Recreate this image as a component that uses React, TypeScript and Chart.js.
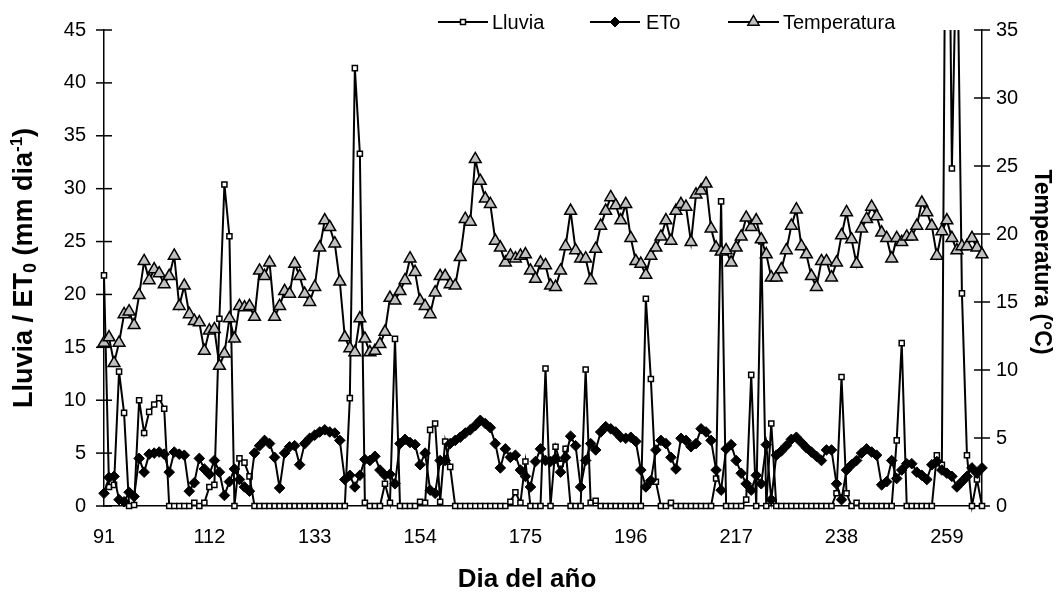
import React, { useEffect, useRef } from 'react';
import { Chart, registerables } from 'chart.js';

Chart.register(...registerables);

const FIRST_DAY = 91;
const TICK_DAYS = [91, 112, 133, 154, 175, 196, 217, 238, 259];

// Lluvia (mm dia-1), days 91..266
const lluvia = [
  21.8, 1.8, 2.0, 12.7, 8.8, 0, 0.1, 10.0, 6.9, 8.9,
  9.6, 10.2, 9.2, 0, 0, 0, 0, 0, 0.3, 0,
  0.3, 1.8, 2.0, 17.7, 30.4, 25.5, 0, 4.5, 4.1, 2.8,
  0, 0, 0, 0, 0, 0, 0, 0, 0, 0,
  0, 0, 0, 0, 0, 0, 0, 0, 0, 10.2,
  41.4, 33.3, 0.3, 0, 0, 0, 2.1, 0.3, 15.8, 0,
  0, 0, 0, 0.4, 0.3, 7.2, 7.8, 0.4, 6.1, 3.7,
  0, 0, 0, 0, 0, 0, 0, 0, 0, 0,
  0, 0.4, 1.3, 0.3, 4.2, 0, 0, 0, 13.0, 0,
  5.6, 4.0, 5.4, 0, 0, 0, 12.9, 0.3, 0.5, 0,
  0, 0, 0, 0, 0, 0, 0, 0, 19.6, 12.0,
  2.3, 0, 0, 0.3, 0, 0, 0, 0, 0, 0,
  0, 0, 2.6, 28.8, 0, 0, 0, 0, 0.6, 12.4,
  0, 25.0, 0, 7.8, 0, 0, 0, 0, 0, 0,
  0, 0, 0, 0, 0, 0, 1.2, 12.2, 1.2, 0,
  0.3, 0, 0, 0, 0, 0, 0, 0, 6.2, 15.4,
  0, 0, 0, 0, 0, 0, 4.8, 3.9, 80, 31.9,
  56, 20.1, 4.8, 0, 2.5, 0,
];

// ETo (mm dia-1)
const eto = [
  1.2, 2.7, 2.8, 0.6, 0.4, 1.3, 0.9, 4.5, 3.2, 4.9,
  5.0, 5.1, 4.9, 3.2, 5.1, 4.9, 4.8, 1.4, 2.2, 4.5,
  3.5, 3.0, 4.3, 3.2, 1.0, 2.3, 3.5, 2.5, 1.8, 1.4,
  5.0, 5.7, 6.2, 5.9, 4.6, 1.7, 5.0, 5.6, 5.7, 3.9,
  5.9, 6.4, 6.7, 7.0, 7.2, 7.0, 6.9, 6.2, 2.5, 2.9,
  1.8, 2.9, 4.4, 4.3, 4.7, 3.4, 2.9, 3.0, 2.1, 5.9,
  6.3, 6.0, 5.8, 3.9, 5.0, 1.5, 1.2, 4.3, 4.3, 5.9,
  6.2, 6.5, 6.9, 7.2, 7.6, 8.1, 7.8, 7.4, 5.9, 3.6,
  5.4, 4.6, 4.8, 3.4, 2.8, 1.8, 4.2, 5.4, 4.3, 4.2,
  4.5, 3.2, 4.6, 6.6, 5.7, 1.8, 4.3, 5.9, 5.3, 7.0,
  7.5, 7.3, 7.0, 6.5, 6.4, 6.5, 6.1, 3.4, 1.8, 2.4,
  5.3, 6.2, 5.9, 4.6, 3.5, 6.4, 6.2, 5.6, 5.9, 7.3,
  7.0, 6.2, 3.4, 1.5, 5.4, 5.8, 4.3, 3.1, 2.1, 1.5,
  2.9, 2.1, 5.8, 0.6, 4.8, 5.2, 5.7, 6.3, 6.5, 6.0,
  5.5, 5.1, 4.7, 4.3, 5.3, 5.3, 2.1, 0.6, 3.4, 3.9,
  4.3, 5.0, 5.4, 5.1, 4.8, 2.0, 2.3, 4.3, 2.6, 3.4,
  4.0, 4.0, 3.2, 2.9, 2.5, 3.9, 4.2, 3.4, 3.1, 2.8,
  1.8, 2.3, 2.8, 3.6, 3.1, 3.6,
];

// Temperatura (°C)
const temperatura = [
  12.0, 12.4, 10.5, 12.0, 14.1, 14.3, 13.3, 15.5, 18.0, 16.6,
  17.4, 17.1, 16.3, 16.9, 18.4, 14.7, 16.2, 14.1, 13.6, 13.5,
  11.4, 12.9, 13.0, 10.3, 11.2, 13.8, 12.3, 14.7, 14.6, 14.7,
  13.9, 17.3, 16.9, 17.9, 13.9, 14.7, 15.8, 15.6, 17.8, 16.9,
  15.6, 15.0, 16.1, 19.0, 21.0, 20.5, 19.3, 16.5, 12.4, 11.6,
  11.3, 13.8, 12.3, 11.3, 11.4, 11.9, 12.8, 15.3, 15.1, 15.8,
  16.6, 18.2, 17.2, 15.1, 14.7, 14.1, 15.7, 16.9, 16.9, 16.3,
  16.2, 18.3, 21.1, 20.9, 25.5, 23.9, 22.6, 22.2, 19.5, 19.0,
  17.9, 18.4, 18.2, 18.4, 18.5, 17.3, 16.7, 17.9, 17.7, 16.2,
  16.1, 17.3, 19.1, 21.7, 18.8, 18.2, 18.2, 16.6, 18.9, 20.6,
  21.7, 22.7, 22.1, 21.0, 22.2, 19.7, 18.0, 17.8, 17.0, 18.4,
  19.0, 19.8, 21.0, 19.5, 21.7, 22.2, 22.0, 19.4, 22.9, 23.2,
  23.7, 20.4, 19.0, 18.7, 18.8, 17.9, 19.0, 19.8, 21.2, 20.5,
  21.0, 19.6, 18.5, 16.8, 16.8, 17.4, 18.8, 20.6, 21.8, 19.1,
  18.5, 16.9, 16.1, 18.0, 18.0, 16.8, 17.9, 19.9, 21.6, 19.6,
  17.8, 20.4, 21.1, 22.0, 21.3, 20.1, 19.7, 18.2, 19.7, 19.4,
  19.8, 19.8, 20.6, 22.3, 21.6, 20.6, 18.4, 20.2, 21.0, 19.7,
  18.8, 19.1, 19.1, 19.7, 19.0, 18.5,
];

const days = lluvia.map((_, i) => String(FIRST_DAY + i));

const FONT = '"Liberation Sans", Arial, Helvetica, sans-serif';
const TRI_FILL = '#c0c0c0';
const TICK_FONT = 20;

function drawMarker(ctx: CanvasRenderingContext2D, kind: string, x: number, y: number) {
  ctx.save();
  ctx.strokeStyle = '#000';
  if (kind === 'rect') {
    ctx.lineWidth = 1.5;
    ctx.fillStyle = '#fff';
    ctx.beginPath();
    ctx.rect(x - 2.5, y - 2.5, 5, 5);
    ctx.fill();
    ctx.stroke();
  } else if (kind === 'diamond') {
    ctx.lineWidth = 1;
    ctx.fillStyle = '#000';
    ctx.beginPath();
    ctx.moveTo(x - 5, y);
    ctx.lineTo(x, y - 5);
    ctx.lineTo(x + 5, y);
    ctx.lineTo(x, y + 5);
    ctx.closePath();
    ctx.fill();
    ctx.stroke();
  } else {
    const r = 6.5;
    ctx.lineWidth = 1.5;
    ctx.fillStyle = TRI_FILL;
    ctx.beginPath();
    ctx.moveTo(x, y - r);
    ctx.lineTo(x + r * 0.866, y + r / 2);
    ctx.lineTo(x - r * 0.866, y + r / 2);
    ctx.closePath();
    ctx.fill();
    ctx.stroke();
  }
  ctx.restore();
}

type Part = { t: string; size: number; dy?: number };

function drawRich(ctx: CanvasRenderingContext2D, parts: Part[], cx: number, cy: number, rot: number) {
  ctx.save();
  ctx.translate(cx, cy);
  ctx.rotate(rot);
  ctx.fillStyle = '#000';
  ctx.textBaseline = 'middle';
  ctx.textAlign = 'left';
  let total = 0;
  for (const p of parts) {
    ctx.font = `bold ${p.size}px ${FONT}`;
    total += ctx.measureText(p.t).width;
  }
  let x = -total / 2;
  for (const p of parts) {
    ctx.font = `bold ${p.size}px ${FONT}`;
    ctx.fillText(p.t, x, p.dy || 0);
    x += ctx.measureText(p.t).width;
  }
  ctx.restore();
}

const LEGEND = [
  { label: 'Lluvia', kind: 'rect', x1: 438, x2: 488, tx: 492 },
  { label: 'ETo', kind: 'diamond', x1: 590, x2: 640, tx: 646 },
  { label: 'Temperatura', kind: 'tri', x1: 728, x2: 779, tx: 783 },
];

const decor = {
  id: 'decor',
  beforeDatasetsDraw(chart: any) {
    const ctx: CanvasRenderingContext2D = chart.ctx;
    const area = chart.chartArea;
    ctx.save();
    ctx.strokeStyle = '#000';
    ctx.lineWidth = 1.5;
    const ys = chart.scales.y;
    for (const t of ys.ticks) {
      const py = ys.getPixelForValue(t.value);
      ctx.beginPath();
      ctx.moveTo(area.left - 8, py);
      ctx.lineTo(area.left + 8, py);
      ctx.stroke();
    }
    const yr = chart.scales.y1;
    for (const t of yr.ticks) {
      const py = yr.getPixelForValue(t.value);
      ctx.beginPath();
      ctx.moveTo(area.right - 8, py);
      ctx.lineTo(area.right + 8, py);
      ctx.stroke();
    }
    ctx.restore();
  },
  afterDraw(chart: any) {
    const ctx: CanvasRenderingContext2D = chart.ctx;
    const ly = 22;
    for (const it of LEGEND) {
      ctx.save();
      ctx.strokeStyle = '#000';
      ctx.lineWidth = 2;
      ctx.beginPath();
      ctx.moveTo(it.x1, ly);
      ctx.lineTo(it.x2, ly);
      ctx.stroke();
      ctx.restore();
      drawMarker(ctx, it.kind, (it.x1 + it.x2) / 2, ly);
      ctx.save();
      ctx.fillStyle = '#000';
      ctx.font = `20px ${FONT}`;
      ctx.textBaseline = 'middle';
      ctx.textAlign = 'left';
      ctx.fillText(it.label, it.tx, ly + 1);
      ctx.restore();
    }
    drawRich(ctx, [
      { t: 'Lluvia / ET', size: 27 },
      { t: '0', size: 18, dy: 6 },
      { t: ' (mm dia', size: 27 },
      { t: '-1', size: 17, dy: -8 },
      { t: ')', size: 27 },
    ], 25, 268, -Math.PI / 2);
    drawRich(ctx, [{ t: 'Temperatura (°C)', size: 23 }], 1041, 262, Math.PI / 2);
    drawRich(ctx, [{ t: 'Dia del año', size: 26 }], 527, 580, 0);
  },
};

const CLIP = { left: 12, right: 12, top: 0, bottom: 12 };

export default function App() {
  const ref = useRef<HTMLCanvasElement>(null);
  useEffect(() => {
    const chart = new Chart(ref.current as HTMLCanvasElement, {
      type: 'line',
      data: {
        labels: days,
        datasets: [
          {
            label: 'Lluvia',
            data: lluvia,
            yAxisID: 'y',
            borderColor: '#000',
            borderWidth: 2,
            pointStyle: 'rect',
            pointRadius: 3.6,
            pointBorderWidth: 1.5,
            pointBackgroundColor: '#fff',
            pointBorderColor: '#000',
            tension: 0,
            order: 3,
            clip: CLIP,
          },
          {
            label: 'ETo',
            data: eto,
            yAxisID: 'y',
            borderColor: '#000',
            borderWidth: 2,
            pointStyle: 'rectRot',
            pointRadius: 5.3,
            pointBorderWidth: 1,
            pointBackgroundColor: '#000',
            pointBorderColor: '#000',
            tension: 0,
            order: 2,
            clip: CLIP,
          },
          {
            label: 'Temperatura',
            data: temperatura,
            yAxisID: 'y1',
            borderColor: '#000',
            borderWidth: 2,
            pointStyle: 'triangle',
            pointRadius: 6.8,
            pointBorderWidth: 1.5,
            pointBackgroundColor: TRI_FILL,
            pointBorderColor: '#000',
            tension: 0,
            order: 1,
            clip: CLIP,
          },
        ],
      } as any,
      options: {
        responsive: false,
        animation: false,
        devicePixelRatio: 1,
        events: [],
        layout: { padding: { top: 29, left: 0, right: 0, bottom: 0 } },
        plugins: { legend: { display: false }, tooltip: { enabled: false } },
        scales: {
          x: {
            type: 'category',
            offset: false,
            grid: { display: true, drawOnChartArea: false, drawTicks: false },
            border: { display: true, color: '#000', width: 1.5 },
            ticks: {
              autoSkip: false,
              maxRotation: 0,
              minRotation: 0,
              padding: 19,
              color: '#000',
              font: { family: FONT, size: TICK_FONT },
              callback: (_v: any, i: number) => {
                const d = FIRST_DAY + i;
                return TICK_DAYS.includes(d) ? String(d) : null;
              },
            },
            afterFit: (s: any) => { s.height = 86; },
          },
          y: {
            position: 'left',
            min: 0,
            max: 45,
            grid: { display: true, drawOnChartArea: false, drawTicks: false },
            border: { display: true, color: '#000', width: 1.5 },
            ticks: { stepSize: 5, padding: 18, color: '#000', font: { family: FONT, size: TICK_FONT } },
            afterFit: (s: any) => { s.width = 104; },
          },
          y1: {
            position: 'right',
            min: 0,
            max: 35,
            grid: { display: true, drawOnChartArea: false, drawTicks: false },
            border: { display: true, color: '#000', width: 1.5 },
            ticks: { stepSize: 5, padding: 14, color: '#000', font: { family: FONT, size: TICK_FONT } },
            afterFit: (s: any) => { s.width = 80; },
          },
        },
      } as any,
      plugins: [decor],
    });
    return () => chart.destroy();
  }, []);
  return (
    <div style={{ position: 'fixed', left: 0, top: 0, width: 1062, height: 592, background: '#fff' }}>
      <canvas ref={ref} width={1062} height={592} style={{ display: 'block' }} />
    </div>
  );
}
